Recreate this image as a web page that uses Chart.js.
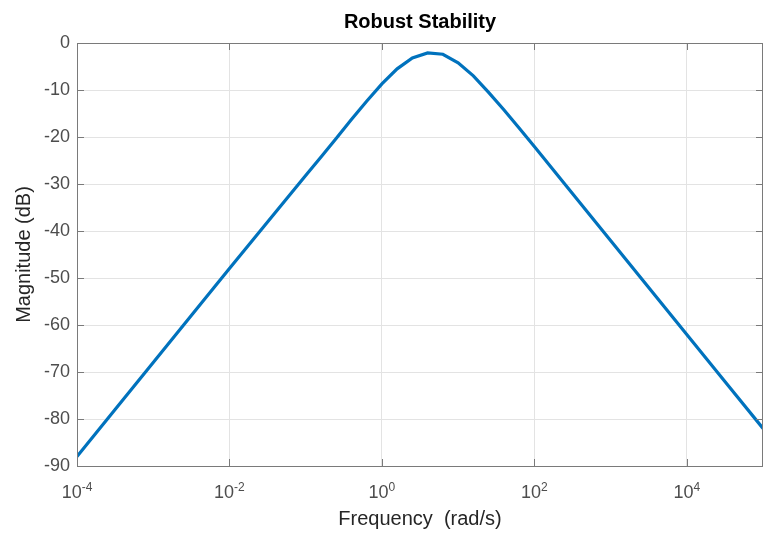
<!DOCTYPE html>
<html>
<head>
<meta charset="utf-8">
<title>Robust Stability</title>
<script src="https://cdn.jsdelivr.net/npm/chart.js@4/dist/chart.umd.min.js"></script>
<style>
  html, body { margin: 0; padding: 0; background: #fff; }
  #wrap { width: 765px; height: 534px; }
</style>
</head>
<body>
<div id="wrap"><canvas id="chart"></canvas></div>
<script>
// frequency (rad/s) and magnitude (dB) of the bode magnitude curve
const freq = [1e-4, 3.16e-4, 1e-3, 3.16e-3, 1e-2, 3.16e-2, 0.1, 0.158, 0.251, 0.398, 0.631,
  1, 1.585, 2.512, 3.981, 6.31, 10, 15.85, 25.12, 39.81, 63.1, 100, 316, 1000, 3162, 1e4, 31623, 1e5];
const magDb = [-88.0, -78.0, -68.0, -58.0, -48.0, -38.1, -28.2, -24.3, -20.3, -16.3, -12.4,
  -8.7, -5.5, -3.2, -2.1, -2.4, -4.2, -7.0, -10.5, -14.2, -18.1, -22.0, -32.0, -42.0, -52.0, -62.0, -72.0, -82.0];

const xTicks = [1e-4, 1e-2, 1, 1e2, 1e4];
const xExponents = ['-4', '-2', '0', '2', '4'];
const yMin = -90, yMax = 0, yStep = 10;

const FONT = "'Liberation Sans', Helvetica, Arial, sans-serif";
const axisColor = '#7a7a7a';
const tickText = '#4d4d4d';
const labelText = '#262626';

// MATLAB-like decorations: box, inward ticks, 10^n labels, titles
const axesDecor = {
  id: 'axesDecor',
  afterDraw(chart) {
    const { ctx, chartArea: a, scales } = chart;
    const xs = scales.x, ys = scales.y;
    ctx.save();

    // box
    ctx.strokeStyle = axisColor;
    ctx.lineWidth = 1;
    ctx.strokeRect(a.left + 0.5, a.top + 0.5, a.right - a.left - 1, a.bottom - a.top);

    // inward tick marks on all four sides
    const tl = 7;
    ctx.beginPath();
    xTicks.forEach(v => {
      const px = Math.round(xs.getPixelForValue(v)) + 0.5;
      ctx.moveTo(px, a.bottom); ctx.lineTo(px, a.bottom - tl);
      ctx.moveTo(px, a.top); ctx.lineTo(px, a.top + tl);
    });
    for (let v = yMin; v <= yMax; v += yStep) {
      const py = Math.round(ys.getPixelForValue(v)) + 0.5;
      ctx.moveTo(a.left, py); ctx.lineTo(a.left + tl, py);
      ctx.moveTo(a.right, py); ctx.lineTo(a.right - tl, py);
    }
    ctx.stroke();

    // x tick labels as 10 with a raised exponent
    ctx.fillStyle = tickText;
    ctx.textBaseline = 'alphabetic';
    ctx.textAlign = 'left';
    xTicks.forEach((v, i) => {
      const px = xs.getPixelForValue(v);
      ctx.font = '18px ' + FONT;
      const wb = ctx.measureText('10').width;
      ctx.font = '12px ' + FONT;
      const we = ctx.measureText(xExponents[i]).width;
      const x0 = px - (wb + we) / 2;
      ctx.font = '18px ' + FONT;
      ctx.fillText('10', x0, a.bottom + 32);
      ctx.font = '12px ' + FONT;
      ctx.fillText(xExponents[i], x0 + wb, a.bottom + 25);
    });

    const cx = (a.left + a.right) / 2;
    ctx.textAlign = 'center';
    ctx.textBaseline = 'middle';

    // title
    ctx.fillStyle = '#000';
    ctx.font = 'bold 20px ' + FONT;
    ctx.fillText('Robust Stability', cx, 22);

    // axis labels
    ctx.fillStyle = labelText;
    ctx.font = '20px ' + FONT;
    ctx.fillText('Frequency  (rad/s)', cx, 519);

    ctx.translate(24, (a.top + a.bottom) / 2);
    ctx.rotate(-Math.PI / 2);
    ctx.fillText('Magnitude (dB)', 0, 0);
    ctx.restore();
  }
};

new Chart(document.getElementById('chart'), {
  type: 'line',
  data: {
    datasets: [{
      data: freq.map((f, i) => ({ x: f, y: magDb[i] })),
      borderColor: '#0072BD',
      borderWidth: 3.2,
      pointRadius: 0,
      tension: 0,
      fill: false
    }]
  },
  options: {
    responsive: true,
    maintainAspectRatio: false,
    animation: false,
    layout: { padding: { top: 43, right: 2, left: 0, bottom: 0 } },
    plugins: {
      legend: { display: false },
      tooltip: { enabled: false },
      title: { display: false }
    },
    scales: {
      x: {
        type: 'logarithmic',
        min: 1e-4,
        max: 1e5,
        afterBuildTicks: s => { s.ticks = xTicks.map(v => ({ value: v })); },
        afterFit: s => { s.height = 68; },
        ticks: { display: false },
        grid: { color: '#e3e3e3', drawTicks: false },
        border: { display: false }
      },
      y: {
        min: yMin,
        max: yMax,
        afterFit: s => { s.width = 77; },
        ticks: {
          stepSize: yStep,
          padding: 7,
          color: tickText,
          font: { family: FONT, size: 18 }
        },
        grid: { color: '#e3e3e3', drawTicks: false },
        border: { display: false }
      }
    }
  },
  plugins: [axesDecor]
});
</script>
</body>
</html>
